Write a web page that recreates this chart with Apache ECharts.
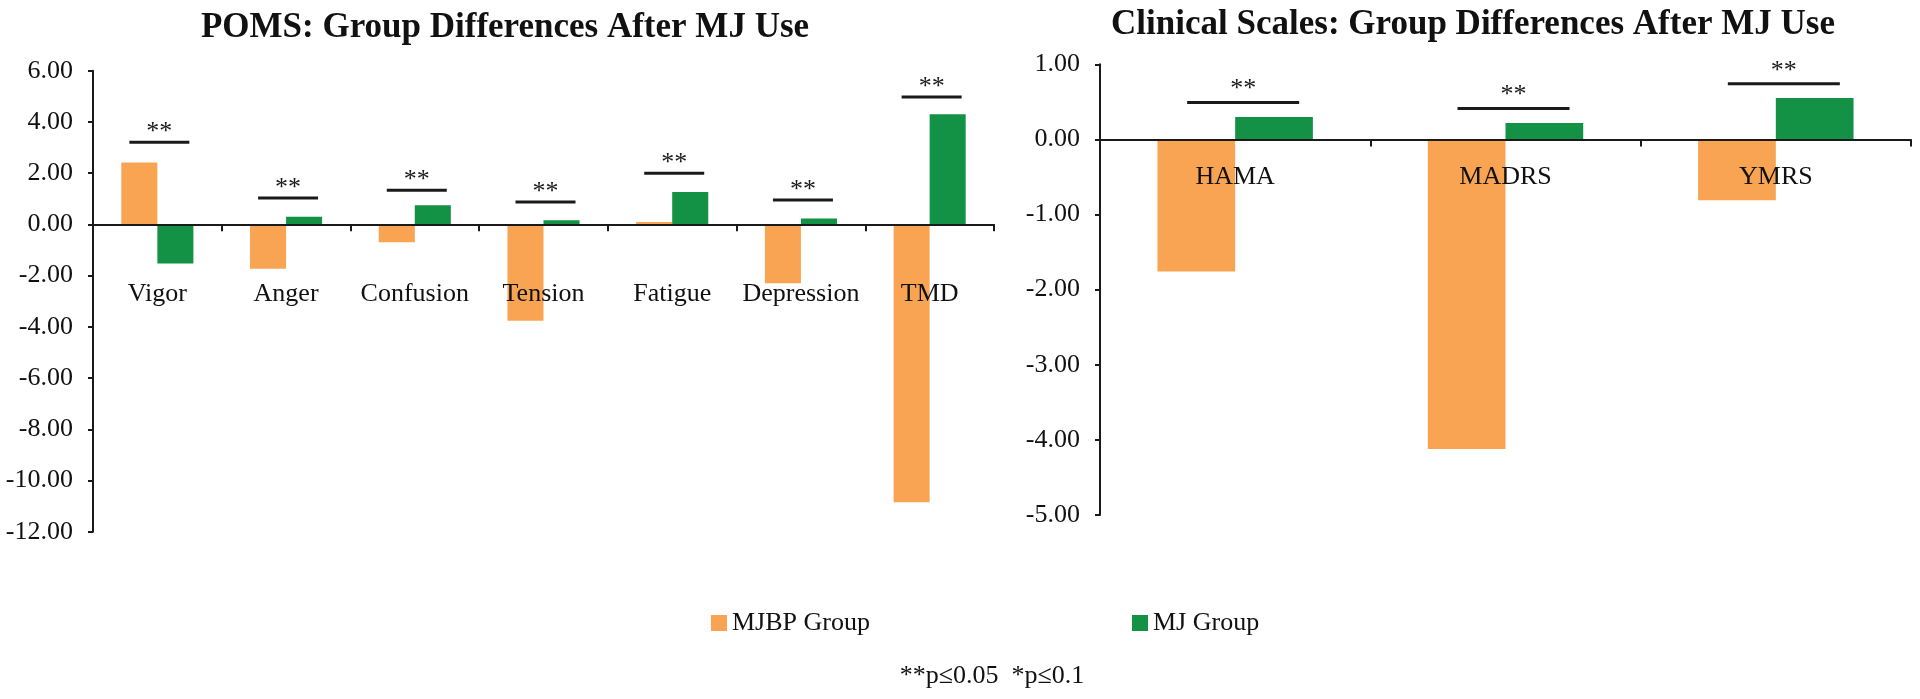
<!DOCTYPE html>
<html>
<head>
<meta charset="utf-8">
<script src="https://cdn.jsdelivr.net/npm/echarts@6/dist/echarts.min.js"></script>
<style>
html,body{margin:0;padding:0;background:#fff;}
#c{width:1920px;height:699px;}
</style>
</head>
<body>
<div id="c"></div>
<script>
// ---- data ----
const pomsCategories = ['Vigor', 'Anger', 'Confusion', 'Tension', 'Fatigue', 'Depression', 'TMD'];
const pomsMJBP = [2.42, -1.73, -0.70, -3.76, 0.09, -2.30, -10.85];
const pomsMJ = [-1.53, 0.30, 0.75, 0.16, 1.26, 0.23, 4.30];
const pomsSigLevel = [3.21, 1.03, 1.33, 0.87, 2.00, 0.95, 4.97];
const pomsSigLabel = ['**', '**', '**', '**', '**', '**', '**'];

const clinCategories = ['HAMA', 'MADRS', 'YMRS'];
const clinMJBP = [-1.76, -4.12, -0.81];
const clinMJ = [0.30, 0.22, 0.55];
const clinSigLevel = [0.49, 0.41, 0.74];
const clinSigLabel = ['**', '**', '**'];

const seriesNames = ['MJBP Group', 'MJ Group'];
const titles = ['POMS: Group Differences After MJ Use', 'Clinical Scales: Group Differences After MJ Use'];
const footnote = '**p\u22640.05  *p\u22640.1';

// ---- styling ----
const FONT = 'Liberation Serif';
const FS = 26;
const ORANGE = '#F8A452';
const GREEN = '#139144';
const AXIS = '#1a1a1a';

function sigSeries(xi, levels, labels, half, off, dy) {
  return {
    type: 'custom',
    xAxisIndex: xi, yAxisIndex: xi,
    z: 20,
    silent: true,
    data: levels.map((v, i) => [i, v]),
    renderItem: function (params, api) {
      const p = api.coord([api.value(0), api.value(1)]);
      const idx = params.dataIndex;
      return {
        type: 'group',
        children: [
          { type: 'line', shape: { x1: p[0] - half + off, y1: p[1], x2: p[0] + half + off, y2: p[1] },
            style: { stroke: AXIS, lineWidth: 3 } },
          { type: 'text', style: { text: labels[idx], x: p[0] + off, y: p[1] - dy, align: 'center', verticalAlign: 'middle',
            font: FS + 'px ' + FONT, fill: AXIS } }
        ]
      };
    }
  };
}

// category labels drawn under the zero line
function catLabelSeries(xi, cats, gap) {
  return {
    type: 'custom',
    xAxisIndex: xi, yAxisIndex: xi,
    z: 25,
    silent: true,
    data: cats.map((c, i) => [i, 0]),
    renderItem: function (params, api) {
      const p = api.coord([api.value(0), api.value(1)]);
      return { type: 'text', style: { text: cats[params.dataIndex], x: p[0], y: p[1] + gap, align: 'center', verticalAlign: 'top',
        font: FS + 'px ' + FONT, fill: '#111' } };
    }
  };
}

function xAxisCfg(gi, cats) {
  return {
    type: 'category', gridIndex: gi, data: cats, z: 10,
    axisLine: { onZero: true, lineStyle: { color: AXIS, width: 2 } },
    axisTick: { show: true, length: 7, lineStyle: { color: AXIS, width: 2 } },
    axisLabel: { show: false },
    splitLine: { show: false }
  };
}
function yAxisCfg(gi, min, max, interval) {
  return {
    type: 'value', gridIndex: gi, min: min, max: max, interval: interval,
    axisLine: { show: true, lineStyle: { color: AXIS, width: 2 } },
    axisTick: { show: true, length: 5, lineStyle: { color: AXIS, width: 2 } },
    axisLabel: { margin: 20, color: '#111', fontFamily: FONT, fontSize: FS, formatter: v => v.toFixed(2) },
    splitLine: { show: false }
  };
}

const chart = echarts.init(document.getElementById('c'), null, { renderer: 'canvas' });
chart.setOption({
  animation: false,
  backgroundColor: '#fff',
  title: [
    { text: titles[0], left: 500, top: 5, textAlign: 'center',
      textStyle: { fontFamily: FONT, fontWeight: 'bold', fontSize: 35, color: '#111' } },
    { text: titles[1], left: 1468, top: 2, textAlign: 'center',
      textStyle: { fontFamily: FONT, fontWeight: 'bold', fontSize: 35, color: '#111' } }
  ],
  legend: {
    data: seriesNames, left: 711, top: 610, padding: 0, itemGap: 262,
    icon: 'rect', itemWidth: 16, itemHeight: 16,
    textStyle: { fontFamily: FONT, fontSize: FS, color: '#111' }
  },
  graphic: [
    { type: 'text', x: 992, y: 676, style: { text: footnote, align: 'center', verticalAlign: 'middle',
      font: FS + 'px ' + FONT, fill: '#111' } }
  ],
  grid: [
    { left: 93, top: 70.7, width: 901, height: 461 },
    { left: 1100, top: 64.3, width: 811, height: 450.7 }
  ],
  xAxis: [xAxisCfg(0, pomsCategories), xAxisCfg(1, clinCategories)],
  yAxis: [yAxisCfg(0, -12, 6, 2), yAxisCfg(1, -5, 1, 1)],
  series: [
    { name: seriesNames[0], type: 'bar', xAxisIndex: 0, yAxisIndex: 0, data: pomsMJBP,
      itemStyle: { color: ORANGE }, barGap: '0%', barCategoryGap: '44%' },
    { name: seriesNames[1], type: 'bar', xAxisIndex: 0, yAxisIndex: 0, data: pomsMJ,
      itemStyle: { color: GREEN }, barGap: '0%', barCategoryGap: '44%' },
    { name: seriesNames[0], type: 'bar', xAxisIndex: 1, yAxisIndex: 1, data: clinMJBP,
      itemStyle: { color: ORANGE }, barGap: '0%', barCategoryGap: '42.5%' },
    { name: seriesNames[1], type: 'bar', xAxisIndex: 1, yAxisIndex: 1, data: clinMJ,
      itemStyle: { color: GREEN }, barGap: '0%', barCategoryGap: '42.5%' },
    sigSeries(0, pomsSigLevel, pomsSigLabel, 30, 2, 10),
    sigSeries(1, clinSigLevel, clinSigLabel, 56, 8, 13),
    catLabelSeries(0, pomsCategories, 57),
    catLabelSeries(1, clinCategories, 25)
  ]
});
</script>
</body>
</html>
